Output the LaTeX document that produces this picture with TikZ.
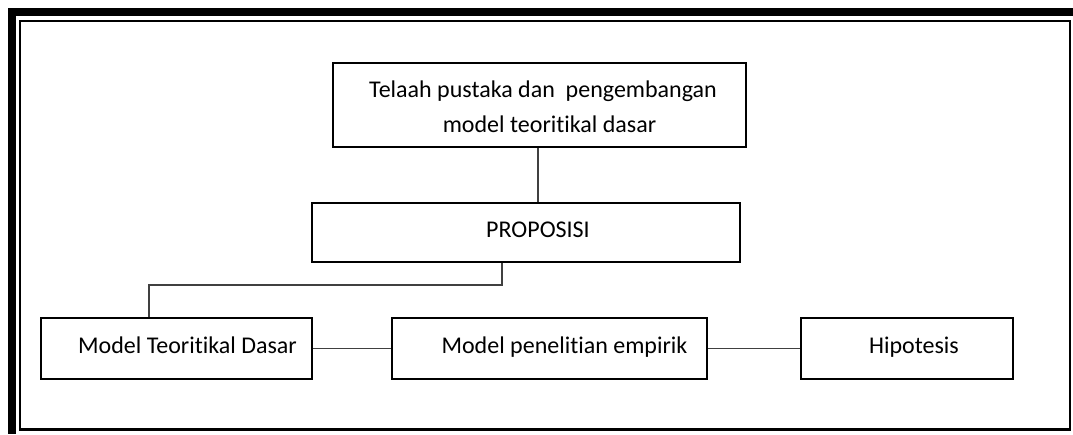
\documentclass[tikz,border=0pt]{standalone}
\usepackage{fontspec}
\setmainfont{Carlito}[Ligatures=NoCommon]
\begin{document}
\begin{tikzpicture}[x=1pt,y=-1pt,
  stepbox/.style={draw=black,line width=1.6pt,rectangle,inner sep=0pt,
    align=center,font=\fontsize{24}{35}\selectfont},
  oneline/.style={text height=14pt,text depth=4pt},
  link/.style={draw=black!75,line width=1.1pt}]
\useasboundingbox (0,0) rectangle (1073,434);
% page frame: heavy top and left bars, thin inner rule
\fill[black] (8,8) rectangle (1073,16);
\fill[black] (8,8) rectangle (16,434);
\draw[line width=2.6pt] (19.8,20.8) rectangle (1070,429.6);
% boxes
\node[stepbox,minimum width=413pt,minimum height=84pt,text height=62pt,text depth=8pt] (telaah) at (539.5,105)
  {\hspace*{7pt}Telaah pustaka dan\ \ pengembangan\\\hspace*{20pt}model teoritikal dasar};
\node[stepbox,oneline,minimum width=428pt,minimum height=59pt] (prop) at (526,232.5) {\hspace*{24pt}PROPOSISI};
\node[stepbox,oneline,minimum width=271pt,minimum height=61pt] (mtd) at (176.5,348.5) {\hspace*{22pt}Model Teoritikal Dasar};
\node[stepbox,oneline,minimum width=315pt,minimum height=61pt] (mpe) at (549.5,348.5) {\hspace*{30pt}Model penelitian empirik};
\node[stepbox,oneline,minimum width=212pt,minimum height=61pt] (hip) at (907,348.5) {\hspace*{14pt}Hipotesis};
% connectors
\coordinate (bendA) at (502,285);
\coordinate (bendB) at (149,285);
\draw[link] (telaah.south -| 538,0) -- (prop.north -| 538,0);
\draw[link] (prop.south -| bendA) -- (bendA) -- (bendB) -- (mtd.north -| bendB);
\draw[link] (mtd.east) -- (mpe.west);
\draw[link] (mpe.east) -- (hip.west);
\end{tikzpicture}
\end{document}
